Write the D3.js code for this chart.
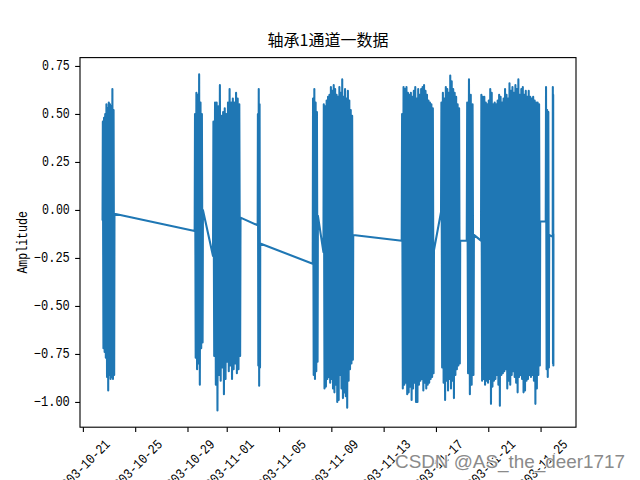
<!DOCTYPE html>
<html><head><meta charset="utf-8">
<script src="https://cdn.jsdelivr.net/npm/d3@7"></script>
<style>body{margin:0;background:#fff}svg{display:block}</style>
</head><body><svg id="c" width="640" height="480"></svg>
<script>
// ---------------- data ----------------
const chartTitle = "轴承1通道一数据";
const yLabel = "Amplitude";
const watermark = "CSDN @AS_the_deer1717";

// recording bursts: start / end time of each dense block
const bandStart = ["2003-10-22 12:06","2003-10-29 13:10","2003-10-30 22:50","2003-11-03 08:50",
  "2003-11-07 13:50","2003-11-08 09:30","2003-11-14 09:10","2003-11-17 09:20",
  "2003-11-19 08:30","2003-11-20 10:40","2003-11-25 09:30","2003-11-25 22:20"];
const bandEnd = ["2003-10-23 10:00","2003-10-30 04:20","2003-11-02 01:20","2003-11-03 13:30",
  "2003-11-07 23:20","2003-11-10 16:10","2003-11-16 20:20","2003-11-18 20:30",
  "2003-11-19 21:40","2003-11-24 23:20","2003-11-25 15:50","2003-11-25 23:39"];
// first / last sample of each block (ends of the connecting lines)
const bandFirst = [-0.05,-0.11,-0.24,-0.08,-0.28,-0.22,-0.16,-0.01,-0.16,-0.16,-0.06,-0.14];
const bandLast  = [-0.02, 0.00,-0.04,-0.175,-0.03,-0.13,-0.21,-0.16,-0.13,-0.06,-0.13,-0.13];
// positive peaks across each block
const bandTop = [
  [0.46,0.48,0.50,0.55,0.53,0.56,0.55,0.54,0.63,0.52],
  [0.50,0.61,0.60,0.706,0.56,0.50],
  [0.46,0.56,0.56,0.54,0.65,0.49,0.51,0.53,0.50,0.56,0.63,0.56,0.58,0.56,0.61,0.58,0.55],
  [0.50,0.63,0.55],
  [0.58,0.63,0.56,0.51],
  [0.55,0.54,0.57,0.59,0.60,0.64,0.62,0.65,0.63,0.60,0.59,0.64,0.61,0.68,0.59,0.63,0.58,0.62,0.57,0.52,0.49],
  [0.50,0.64,0.63,0.64,0.61,0.60,0.61,0.59,0.62,0.64,0.58,0.63,0.60,0.63,0.64,0.65,0.62,0.60,0.57,0.56,0.55,0.53],
  [0.56,0.61,0.58,0.64,0.63,0.61,0.70,0.67,0.63,0.61,0.59,0.55,0.53],
  [0.56,0.68,0.60,0.55],
  [0.60,0.59,0.59,0.56,0.55,0.57,0.63,0.61,0.55,0.56,
   0.55,0.57,0.60,0.59,0.56,0.58,0.63,0.60,0.58,0.66,0.62,0.64,0.61,0.65,0.63,
   0.68,0.60,0.63,0.64,0.60,0.62,0.59,0.62,0.59,0.58,0.59,0.57,0.56,0.56,0.55],
  [0.64,0.52,0.51],
  [0.64,0.60]
];
// negative peaks across each block
const bandBottom = [
  [-0.72,-0.74,-0.77,-0.87,-0.94,-0.86,-0.88,-0.87,-0.88,-0.86],
  [-0.77,-0.83,-0.80,-0.91,-0.72,-0.69],
  [-0.76,-0.91,-1.044,-0.86,-0.89,-0.82,-0.96,-0.88,-0.79,-0.84,-0.81,-0.88,-0.83,-0.80,-0.85,-0.83,-0.76],
  [-0.81,-0.915,-0.82],
  [-0.86,-0.88,-0.84,-0.79],
  [-0.93,-0.92,-0.88,-0.87,-0.90,-0.88,-0.93,-0.95,-0.91,-1.00,-0.99,-0.86,-0.93,-0.98,-0.95,-0.97,-1.03,-0.89,-0.83,-0.80,-0.78],
  [-0.93,-0.91,-0.90,-0.96,-0.95,-0.92,-0.99,-0.93,-0.90,-1.00,-1.00,-0.91,-0.89,-0.88,-0.94,-0.90,-0.93,-0.91,-0.90,-0.88,-0.87,-0.85],
  [-0.82,-0.90,-0.99,-0.89,-0.94,-0.88,-0.93,-0.89,-0.98,-0.86,-0.83,-0.81,-0.80],
  [-0.85,-0.96,-0.91,-0.86],
  [-0.89,-0.88,-0.91,-0.89,-0.90,-0.88,-1.01,-0.92,-0.89,-0.88,
   -0.86,-0.91,-1.02,-0.86,-0.85,-0.84,-0.83,-0.93,-0.89,-0.91,-0.86,-0.84,-0.87,-0.90,-0.95,
   -0.87,-0.86,-0.88,-0.95,-0.94,-0.89,-0.88,-0.86,-0.87,-0.86,-0.89,-1.01,-0.93,-0.86,-0.81],
  [-0.83,-0.87,-0.82],
  [-0.80,-0.81]
];
const yTickValues = [-1.00,-0.75,-0.50,-0.25,0.00,0.25,0.50,0.75];

// ---------------- build the series ----------------
const parse = d3.timeParse("%Y-%m-%d %H:%M");
const points = [];
bandStart.forEach((s, b) => {
  const t0 = parse(s), t1 = parse(bandEnd[b]);
  const top = bandTop[b], bot = bandBottom[b], n = top.length, span = t1 - t0;
  points.push([t0, bandFirst[b]]);
  for (let i = 0; i < n; i++) {
    points.push([new Date(+t0 + span * (i + 0.25) / n), top[i]]);
    points.push([new Date(+t0 + span * (i + 0.75) / n), bot[i]]);
  }
  points.push([t1, bandLast[b]]);
});

// ---------------- layout ----------------
const L = 80, R = 576, T = 57.6, B = 427.2;
const tExt = d3.extent(points, d => +d[0]);
const tPad = (tExt[1] - tExt[0]) * 0.05;
const vExt = d3.extent(points, d => d[1]);
const vPad = (vExt[1] - vExt[0]) * 0.05;
const x = d3.scaleTime().domain([new Date(tExt[0] - tPad), new Date(tExt[1] + tPad)]).range([L, R]);
const y = d3.scaleLinear().domain([vExt[0] - vPad, vExt[1] + vPad]).range([B, T]);

const svg = d3.select("#c");
svg.append("rect").attr("width", 640).attr("height", 480).attr("fill", "#fff");

const monoFont = "'Liberation Mono','DejaVu Sans Mono',monospace";
const charW = 6.94;
function txtLen(s) { let w = 0; for (const ch of s) w += (ch === "\u2212") ? 8.3 : charW; return w; }

// line
svg.append("path")
  .datum(points)
  .attr("fill", "none")
  .attr("stroke", "#1f77b4")
  .attr("stroke-width", 2.08)
  .attr("stroke-linejoin", "round")
  .attr("stroke-linecap", "square")
  .attr("d", d3.line().x(d => x(d[0])).y(d => y(d[1])));

// x axis
const fmt = d3.timeFormat("%Y-%m-%d");
const xAxis = svg.append("g").attr("transform", `translate(0,${B})`)
  .call(d3.axisBottom(x).ticks(d3.timeDay.every(4)).tickSize(4.86).tickFormat(fmt));
xAxis.select(".domain").remove();
xAxis.selectAll(".tick line").attr("stroke", "#000").attr("stroke-width", 1.11);
xAxis.selectAll(".tick text").each(function() {
  const s = d3.select(this).text();
  d3.select(this)
    .attr("y", null).attr("dy", null)
    .attr("transform", "translate(0,39.5) rotate(-45)")
    .attr("text-anchor", "middle")
    .attr("dominant-baseline", "central")
    .attr("font-family", monoFont).attr("font-size", 13.9)
    .attr("fill", "#000")
    .attr("textLength", txtLen(s)).attr("lengthAdjust", "spacingAndGlyphs");
});

// y axis
const yAxis = svg.append("g").attr("transform", `translate(${L},0)`)
  .call(d3.axisLeft(y).tickValues(yTickValues).tickSize(4.86)
    .tickFormat(v => d3.format(".2f")(v).replace("-", "\u2212")));
yAxis.select(".domain").remove();
yAxis.selectAll(".tick line").attr("stroke", "#000").attr("stroke-width", 1.11);
yAxis.selectAll(".tick text").each(function() {
  const s = d3.select(this).text();
  d3.select(this)
    .attr("x", -10.2).attr("dy", null)
    .attr("dominant-baseline", "central")
    .attr("font-family", monoFont).attr("font-size", 13.9)
    .attr("fill", "#000")
    .attr("textLength", txtLen(s)).attr("lengthAdjust", "spacingAndGlyphs");
});

// frame
svg.append("rect").attr("x", L).attr("y", T).attr("width", R - L).attr("height", B - T)
  .attr("fill", "none").attr("stroke", "#000").attr("stroke-width", 1.11);

// y label
svg.append("text")
  .attr("transform", `translate(22.5,${(T + B) / 2}) rotate(-90)`)
  .attr("text-anchor", "middle").attr("dominant-baseline", "central")
  .attr("font-family", monoFont).attr("font-size", 13.9)
  .attr("textLength", txtLen(yLabel)).attr("lengthAdjust", "spacingAndGlyphs")
  .text(yLabel);

// title
svg.append("text")
  .attr("x", (L + R) / 2).attr("y", 46)
  .attr("text-anchor", "middle")
  .attr("font-family", "'Noto Sans CJK SC','Noto Sans',sans-serif")
  .attr("font-size", 16)
  .text(chartTitle);

// watermark
svg.append("text")
  .attr("x", 395).attr("y", 467.7)
  .attr("font-family", "'Liberation Sans',Arial,sans-serif")
  .attr("font-size", 19)
  .attr("fill", "#8a8a8a")
  .attr("stroke", "rgba(255,255,255,0.85)")
  .attr("stroke-width", 2.2)
  .attr("paint-order", "stroke")
  .attr("textLength", 230).attr("lengthAdjust", "spacingAndGlyphs")
  .text(watermark);
</script></body></html>
